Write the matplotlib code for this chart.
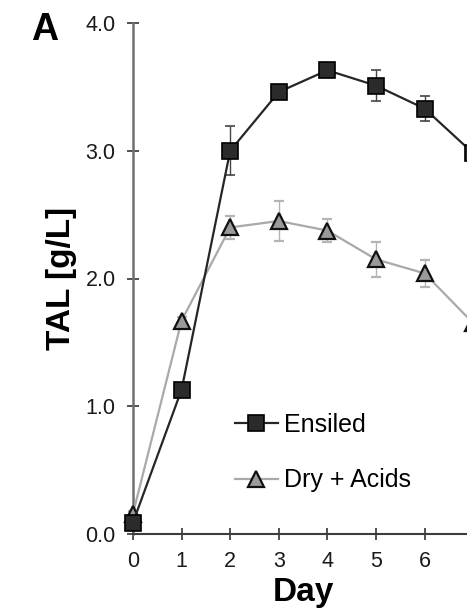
import matplotlib
matplotlib.use("Agg")
import matplotlib.pyplot as plt
from matplotlib.ticker import FormatStrFormatter
from matplotlib.lines import Line2D

plt.rcParams['font.family'] = ['Liberation Sans', 'DejaVu Sans']

days = [0, 1, 2, 3, 4, 5, 6, 7]
ensiled = [0.09, 1.13, 3.00, 3.46, 3.63, 3.51, 3.33, 2.98]
ensiled_err = [0.02, 0.03, 0.19, 0.03, 0.03, 0.12, 0.10, 0.05]
dry_acids = [0.16, 1.67, 2.40, 2.45, 2.375, 2.15, 2.04, 1.65]
dry_acids_err = [0.02, 0.03, 0.09, 0.16, 0.09, 0.135, 0.107, 0.08]
y_ticks = [0.0, 1.0, 2.0, 3.0, 4.0]
x_ticks = [0, 1, 2, 3, 4, 5, 6]

W, H = 467, 610
fig = plt.figure(figsize=(W / 100, H / 100), dpi=100)
ax_left = 133 / W
ax_bottom = (H - 534) / H
ax_height = (534 - 23) / H
ax_width = 8 * 48.6 / W
ax = fig.add_axes([ax_left, ax_bottom, ax_width, ax_height])

ms = 11.8
dry_style = dict(color='#a9a9a9', lw=1.6, marker='^', ms=ms, mfc='#9a9a9a',
                 mec='#111111', mew=1.6)
ens_style = dict(color='#262626', lw=1.6, marker='s', ms=ms, mfc='#2b2b2b',
                 mec='#000000', mew=1.2)
ax.errorbar(days, dry_acids, yerr=dry_acids_err, **dry_style,
            ecolor='#b4b4b4', elinewidth=1.0, capsize=3.6, capthick=1.0,
            zorder=3, clip_on=False)
ax.errorbar(days, ensiled, yerr=ensiled_err, **ens_style,
            ecolor='#444444', elinewidth=1.0, capsize=3.6, capthick=1.0,
            zorder=4, clip_on=False)

ax.set_xlim(0, 8)
ax.set_ylim(0, 4.0)
ax.set_xticks(x_ticks)
ax.set_yticks(y_ticks)
ax.yaxis.set_major_formatter(FormatStrFormatter('%.1f'))

for s in ['top', 'right']:
    ax.spines[s].set_visible(False)
ax.spines['left'].set_color('#707070')
ax.spines['left'].set_linewidth(1.8)
ax.spines['bottom'].set_color('#3c3c3c')
ax.spines['bottom'].set_linewidth(1.5)

ax.tick_params(axis='both', direction='inout', length=9, width=1.2,
               colors='#333333', labelcolor='#1a1a1a', labelsize=15.5)
ax.tick_params(axis='y', pad=8)
ax.tick_params(axis='x', pad=8)

ax.set_xlabel('Day', fontsize=24, fontweight='bold')
ax.xaxis.set_label_coords(3.5 / 8, -0.085)
ax.set_ylabel('TAL [g/L]', fontsize=24, fontweight='bold')
ax.yaxis.set_label_coords(-56 / (ax_width * W), 0.5)

fig.text(45 / W, 1 - 30 / H, 'A', fontsize=27, fontweight='bold',
         ha='center', va='center')

handles = [Line2D([], [], **ens_style), Line2D([], [], **dry_style)]
labels = ['Ensiled', 'Dry + Acids']
leg = ax.legend(handles, labels, loc='upper left',
                bbox_to_anchor=(235 / W, 1 - 413 / H),
                bbox_transform=fig.transFigure, frameon=False,
                fontsize=18, handlelength=1.7, handletextpad=0.25,
                labelspacing=1.25, borderpad=0, borderaxespad=0)

fig.savefig('out.png', dpi=100)
